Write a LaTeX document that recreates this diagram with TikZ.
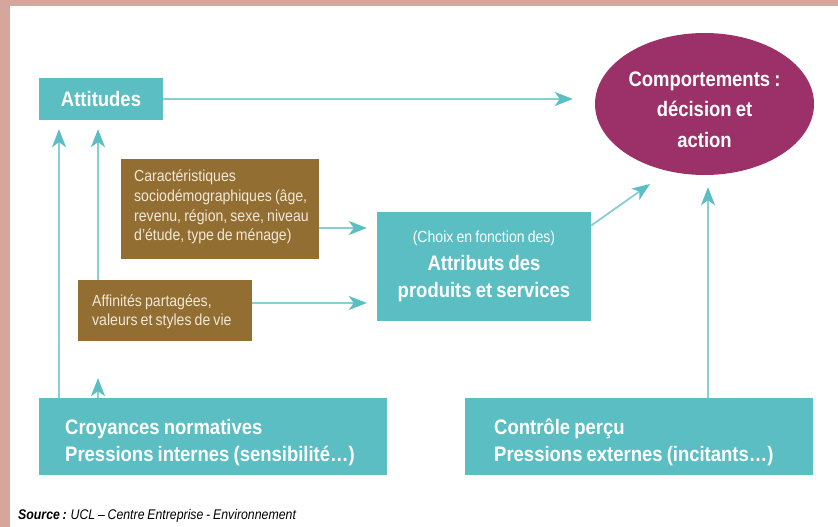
\documentclass[tikz,border=0pt]{standalone}
\usepackage{fontspec}
\setmainfont{Liberation Sans}
\newfontfamily\cond[FakeStretch=0.88,WordSpace=0.8]{Liberation Sans}
\usetikzlibrary{arrows.meta,shapes.geometric,calc}
\definecolor{teal1}{HTML}{5ABEC3}
\definecolor{tealline}{HTML}{86CFD2}
\definecolor{brown1}{HTML}{936E33}
\definecolor{plum}{HTML}{9B3168}
\definecolor{pinkb}{HTML}{D5A69B}
\definecolor{cream}{HTML}{F1E8D6}
\begin{document}
\begin{tikzpicture}[x=1pt,y=-1pt,
  tbox/.style={fill=teal1,draw=none,inner sep=0pt},
  bbox/.style={fill=brown1,draw=none,inner sep=0pt},
  whitetxt/.style={text=white,inner sep=0pt},
  creamtxt/.style={text=cream,inner sep=0pt,align=left,font=\cond\fontsize{16}{19.8}\selectfont},
  bigtxt/.style={font=\cond\bfseries\fontsize{21}{27}\selectfont},
  arr/.style={draw=tealline,line width=1.8pt,-{Stealth[length=18pt,width=14pt,inset=5pt,fill=teal1,color=teal1]}}
]
\useasboundingbox (0,0) rectangle (838,527);
\fill[white] (0,0) rectangle (838,527);
\fill[pinkb] (0,0) rectangle (838,6);
\fill[pinkb] (0,0) rectangle (10,527);

% boxes
\node[tbox,minimum width=124pt,minimum height=42pt] (att) at (101,99) {};
\node[ellipse,fill=plum,draw=none,minimum width=219pt,minimum height=142pt,inner sep=0pt] (comp) at (704.5,104) {};
\node[bbox,minimum width=198pt,minimum height=100pt] (car) at (220,209) {};
\node[tbox,minimum width=214pt,minimum height=109pt] (attr) at (484,266.5) {};
\node[bbox,minimum width=174pt,minimum height=61pt] (aff) at (165,310.5) {};
\node[tbox,minimum width=348pt,minimum height=77pt] (croy) at (213,436.5) {};
\node[tbox,minimum width=348pt,minimum height=77pt] (ctrl) at (639,436.5) {};

% texts
\node[whitetxt,bigtxt] (attT) at (att.center) {Attitudes};
\node[whitetxt,align=center,font=\cond\bfseries\fontsize{21}{30.5}\selectfont] (compT) at (704.5,109.3)
  {Comportements :\\décision et\\action};
\node[creamtxt,anchor=west] (carT) at (134,207)
  {Caractéristiques\\sociodémographiques (âge,\\revenu, région, sexe, niveau\\d’étude, type de ménage)};
\node[whitetxt,align=center,font=\cond\bfseries\fontsize{21}{27}\selectfont] (attrT) at (484,266.5)
  {{\mdseries\fontsize{16}{20}\selectfont (Choix en fonction des)}\\[0.8pt]
   Attributs des\\
   produits et services};
\node[creamtxt,anchor=west,font=\cond\fontsize{16}{19}\selectfont] (affT) at (92,312)
  {Affinités partagées,\\valeurs et styles de vie};
\node[whitetxt,bigtxt,align=left,anchor=west] (croyT) at (65,442.5)
  {Croyances normatives\\Pressions internes (sensibilité…)};
\node[whitetxt,bigtxt,align=left,anchor=west] (ctrlT) at (494,442.5)
  {Contrôle perçu\\Pressions externes (incitants…)};

\node[anchor=west,inner sep=0pt,font=\cond\fontsize{14}{16}\selectfont] (src) at (18,516)
  {\textbf{\textit{Source :}} \textit{UCL – Centre Entreprise - Environnement}};

% connectors
\draw[arr,shorten >=22pt] (att.east) -- (att.east -| comp.west);
\draw[arr,shorten >=10pt] (car.east |- 0,228) -- (attr.west |- 0,228);
\draw[arr,shorten >=10pt] (aff.east |- 0,303) -- (attr.west |- 0,303);
\draw[arr] ([yshift=41pt]attr.east) -- (650,184) coordinate (tipc);
\draw[arr,shorten >=12pt] (ctrl.north -| 708,0) -- (comp.south -| 708,0);
\draw[arr,shorten >=9pt] (croy.north -| 59,0) -- (att.south -| 59,0);
\draw[arr,shorten >=9pt] (aff.north -| 98,0) -- (att.south -| 98,0);
\draw[arr,shorten >=37pt] (croy.north -| 98,0) -- (aff.south -| 98,0);
\end{tikzpicture}
\end{document}
